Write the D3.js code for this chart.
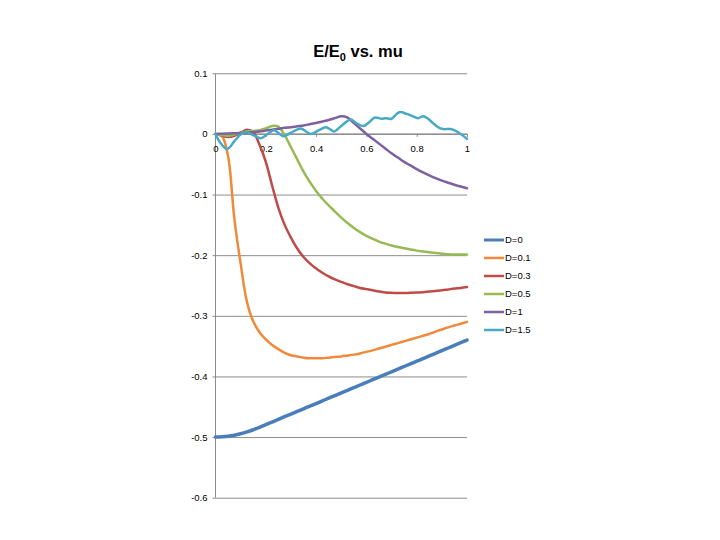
<!DOCTYPE html>
<html>
<head>
<meta charset="utf-8">
<script src="https://cdn.jsdelivr.net/npm/d3@7"></script>
<style>
  html, body { margin: 0; padding: 0; background: #fff; }
  svg { display: block; }
  text { font-family: "Liberation Sans", Arial, sans-serif; }
</style>
</head>
<body>
<script>
// ---------- data ----------
const seriesNames = ["D=0", "D=0.1", "D=0.3", "D=0.5", "D=1", "D=1.5"];
const seriesColors = ["#4A7EBB", "#F08A3A", "#BE4B48", "#98B954", "#7D60A0", "#46AAC5"];

const muGrid = [0, 0.025, 0.05, 0.075, 0.1, 0.125, 0.15, 0.175, 0.2, 0.225, 0.25, 0.275, 0.3, 0.325, 0.35, 0.375, 0.4,
  0.425, 0.45, 0.475, 0.5, 0.525, 0.55, 0.575, 0.6, 0.625, 0.65, 0.675, 0.7, 0.725, 0.75, 0.775, 0.8,
  0.825, 0.85, 0.875, 0.9, 0.925, 0.95, 0.975, 1];

const d0 = [-0.500, -0.4996, -0.4986, -0.4969, -0.4945, -0.4915, -0.4879, -0.4839, -0.4796, -0.4752, -0.4708, -0.4664, -0.4621,
  -0.4577, -0.4534, -0.449, -0.4447, -0.4403, -0.4359, -0.4316, -0.4272, -0.4229, -0.4185, -0.4141, -0.4098, -0.4054,
  -0.4011, -0.3967, -0.3923, -0.388, -0.3836, -0.3793, -0.3749, -0.3705, -0.3662, -0.3618, -0.3575, -0.3531, -0.3487, -0.3444, -0.340];

const d01 = [0, -0.003, -0.037, -0.140, -0.214, -0.277, -0.309, -0.327, -0.339, -0.348, -0.355, -0.361, -0.365,
  -0.367, -0.369, -0.370, -0.370, -0.370, -0.369, -0.368, -0.367, -0.3655, -0.364, -0.362, -0.3595, -0.357,
  -0.354, -0.351, -0.348, -0.345, -0.342, -0.339, -0.336, -0.333, -0.330, -0.326, -0.3225, -0.319, -0.316, -0.313, -0.310];

const d03 = [0, -0.003, -0.005, -0.003, 0.002, 0.007, 0.003, -0.018, -0.046, -0.085, -0.122, -0.150, -0.171,
  -0.189, -0.203, -0.2135, -0.222, -0.229, -0.235, -0.240, -0.244, -0.248, -0.251, -0.254, -0.256, -0.258,
  -0.260, -0.2615, -0.262, -0.2625, -0.2625, -0.262, -0.2615, -0.261, -0.260, -0.259, -0.258, -0.2565, -0.255, -0.254, -0.2525];

const d05 = [0, -0.002, -0.003, -0.001, 0.002, 0.004, 0.005, 0.006, 0.009, 0.013, 0.012, -0.002, -0.022,
  -0.042, -0.062, -0.079, -0.094, -0.107, -0.118, -0.128, -0.138, -0.147, -0.155, -0.162, -0.168, -0.173,
  -0.1775, -0.181, -0.184, -0.1865, -0.1887, -0.1907, -0.1925, -0.194, -0.1953, -0.1965, -0.1975, -0.1983, -0.1988, -0.199, -0.199];

const d1 = [0, 0.0003, 0.0006, 0.001, 0.0015, 0.002, 0.003, 0.004, 0.0055, 0.007, 0.0085, 0.010, 0.011,
  0.0125, 0.014, 0.016, 0.018, 0.0205, 0.023, 0.026, 0.029, 0.027, 0.018, 0.009, 0.000, -0.008,
  -0.016, -0.024, -0.032, -0.039, -0.046, -0.052, -0.058, -0.0635, -0.0685, -0.073, -0.077, -0.0805, -0.0838, -0.0868, -0.0895];

const muTeal = [0, 0.02, 0.047, 0.075, 0.1, 0.12, 0.15, 0.18, 0.205, 0.233, 0.255, 0.272, 0.3, 0.339, 0.36, 0.379,
  0.41, 0.438, 0.455, 0.471, 0.5, 0.537, 0.56, 0.588, 0.61, 0.634, 0.66, 0.675, 0.7, 0.72, 0.735, 0.76, 0.78,
  0.805, 0.826, 0.845, 0.867, 0.89, 0.906, 0.935, 0.955, 0.975, 1];
const d15 = [0, -0.015, -0.025, -0.012, -0.001, 0.003, -0.002, -0.007, -0.001, 0.006, 0.000, -0.004, 0.002, 0.009,
  0.004, 0.000, 0.006, 0.011, 0.008, 0.004, 0.013, 0.024, 0.018, 0.013, 0.019, 0.027, 0.025, 0.026, 0.025,
  0.033, 0.036, 0.033, 0.030, 0.026, 0.029, 0.025, 0.017, 0.010, 0.008, 0.008, 0.005, 0.000, -0.008];

const xTickValues = [0, 0.2, 0.4, 0.6, 0.8, 1];
const xTickLabels = ["0", "0.2", "0.4", "0.6", "0.8", "1"];
const yTickValues = [0.1, 0, -0.1, -0.2, -0.3, -0.4, -0.5, -0.6];
const yTickLabels = ["0.1", "0", "-0.1", "-0.2", "-0.3", "-0.4", "-0.5", "-0.6"];

const titleMain = "E/E";
const titleSub = "0";
const titleRest = " vs. mu";

// ---------- layout ----------
const W = 720, H = 540;
const plot = { left: 215.5, right: 467, top: 73.3, bottom: 497.7 };

const svg = d3.select("body").append("svg").attr("width", W).attr("height", H);

const x = d3.scaleLinear().domain([0, 1]).range([plot.left, plot.right]);
const y = d3.scaleLinear().domain([-0.6, 0.1]).range([plot.bottom, plot.top]);

const gridColor = "#8c8c8c";

// gridlines
const grid = svg.append("g")
  .attr("transform", `translate(${plot.left},0)`)
  .call(d3.axisLeft(y).tickValues(yTickValues).tickSize(-(plot.right - plot.left)).tickFormat(""));
grid.select(".domain").remove();
grid.selectAll("line").attr("stroke", gridColor).attr("stroke-width", 1);

// y axis
const yAxis = svg.append("g")
  .attr("transform", `translate(${plot.left},0)`)
  .call(d3.axisLeft(y).tickValues(yTickValues).tickSize(3).tickPadding(5)
    .tickFormat((d, i) => yTickLabels[i]));
yAxis.select(".domain").attr("stroke", gridColor).attr("d", `M0,${plot.top}V${plot.bottom}`);
yAxis.selectAll("line").attr("stroke", gridColor);
yAxis.selectAll("text").attr("font-size", 9.5).attr("fill", "#000");

// x axis at y = 0
const xAxis = svg.append("g")
  .attr("transform", `translate(0,${y(0)})`)
  .call(d3.axisBottom(x).tickValues(xTickValues).tickSize(3).tickPadding(8)
    .tickFormat((d, i) => xTickLabels[i]));
xAxis.select(".domain").attr("stroke", gridColor).attr("d", `M${plot.left},0H${plot.right}`);
xAxis.selectAll("line").attr("stroke", gridColor);
xAxis.selectAll("text").attr("font-size", 9.5).attr("fill", "#000");

// series
const series = [
  { xs: muGrid, ys: d0, w: 3.5 },
  { xs: muGrid, ys: d01, w: 2.5 },
  { xs: muGrid, ys: d03, w: 2.5 },
  { xs: muGrid, ys: d05, w: 2.5 },
  { xs: muGrid, ys: d1, w: 2.5 },
  { xs: muTeal, ys: d15, w: 2.5 }
];

const line = d3.line().x(d => x(d[0])).y(d => y(d[1])).curve(d3.curveCatmullRom.alpha(0.5));

const lines = svg.append("g");
series.forEach((s, i) => {
  const pts = s.xs.map((m, j) => [m, s.ys[j]]);
  lines.append("path")
    .datum(pts)
    .attr("d", line)
    .attr("fill", "none")
    .attr("stroke", seriesColors[i])
    .attr("stroke-width", s.w)
    .attr("stroke-linejoin", "round")
    .attr("stroke-linecap", "round");
});

// legend
const legend = svg.append("g").attr("transform", "translate(484,240)");
seriesNames.forEach((name, i) => {
  const g = legend.append("g").attr("transform", `translate(0,${i * 18})`);
  g.append("line").attr("x1", 0).attr("x2", 20).attr("y1", 0).attr("y2", 0)
    .attr("stroke", seriesColors[i]).attr("stroke-width", i === 0 ? 3 : 2.5);
  g.append("text").attr("x", 21).attr("y", 0).attr("dy", "0.35em")
    .attr("font-size", 9.5).attr("fill", "#000").text(name);
});

// title
const title = svg.append("text")
  .attr("x", 358).attr("y", 57)
  .attr("text-anchor", "middle")
  .attr("font-size", 16.5).attr("font-weight", "bold").attr("fill", "#000");
title.append("tspan").text(titleMain);
title.append("tspan").attr("font-size", 11).attr("dy", 4).text(titleSub);
title.append("tspan").attr("dy", -4).text(titleRest);
</script>
</body>
</html>
